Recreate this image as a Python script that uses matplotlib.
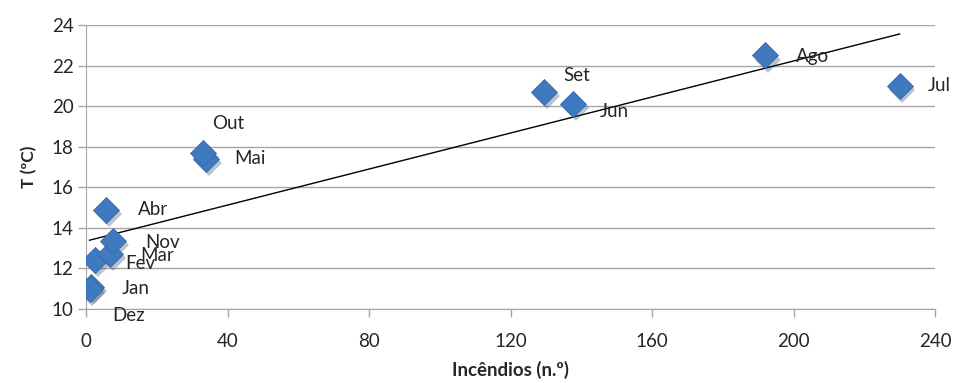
import matplotlib
matplotlib.use("Agg")
import matplotlib.pyplot as plt
import matplotlib.transforms as mtransforms
import numpy as np

plt.rcParams['font.family'] = ['Lato', 'DejaVu Sans']

months = ["Jan", "Fev", "Mar", "Abr", "Mai", "Jun", "Jul", "Ago", "Set", "Out", "Nov", "Dez"]
fires = [1.5, 2.5, 6.8, 5.7, 34, 137.7, 230, 192, 129.5, 33, 7.6, 1.0]
temps = [11.1, 12.4, 12.7, 14.9, 17.4, 20.1, 21.0, 22.5, 20.7, 17.7, 13.35, 11.0]
label_offsets = {
    "Jan": (22, -1), "Fev": (22, -2), "Mar": (22, -1), "Abr": (23, 0),
    "Mai": (20, 0), "Jun": (19, -5), "Jul": (20, 0), "Ago": (22, -1),
    "Set": (14, 12), "Out": (7, 21), "Nov": (23, -1), "Dez": (16, -19),
}
xticks = [0, 40, 80, 120, 160, 200, 240]
yticks = [10, 12, 14, 16, 18, 20, 22, 24]

fig = plt.figure(figsize=(9.55, 3.83), dpi=100)
ax = fig.add_axes([86/955, 1-309/383, (935-86)/955, (309-25)/383])

grid_c = "#a6a6a6"
text_c = "#262626"
ax.set_xlim(0, 240)
ax.set_ylim(10, 24)
ax.set_xticks(xticks)
ax.set_yticks(yticks)
ax.yaxis.grid(True, color=grid_c, linewidth=1)
ax.set_axisbelow(True)
for s in ["top", "right"]:
    ax.spines[s].set_visible(False)
for s in ["left", "bottom"]:
    ax.spines[s].set_color(grid_c)
ax.tick_params(axis='both', colors=grid_c, length=6, width=1, labelsize=13.5,
               labelcolor=text_c)
ax.tick_params(axis='x', pad=11)
ax.tick_params(axis='y', pad=3)

# trend line
coef = np.polyfit(fires, temps, 1)
xl = np.array([min(fires), max(fires)])
ax.plot(xl, np.polyval(coef, xl), color="black", linewidth=1, zorder=2)

# shadow
shadow = mtransforms.offset_copy(ax.transData, fig=fig, x=2, y=-3, units='points')
ax.plot(fires, temps, linestyle='none', marker='D', markersize=13.5,
        color="#1f3b66", alpha=0.3, transform=shadow, zorder=3, markeredgewidth=0)
ax.plot(fires, temps, linestyle='none', marker='D', markersize=13.5,
        color="#3f79c0", markeredgecolor="#3568a8", markeredgewidth=0.6, zorder=4)

for m, x, y in zip(months, fires, temps):
    dx, dy = label_offsets[m]
    ax.annotate(m, (x, y), xytext=(dx, dy), textcoords='offset points',
                ha='left', va='center', fontsize=13.5, color=text_c, zorder=5)

ax.set_xlabel("Incêndios (n.º)", fontsize=13.5, fontweight='bold', color=text_c, labelpad=8)
ax.set_ylabel("T (ºC)", fontsize=12.5, fontweight='bold', color=text_c, labelpad=10)

fig.savefig("out.png", dpi=100)
